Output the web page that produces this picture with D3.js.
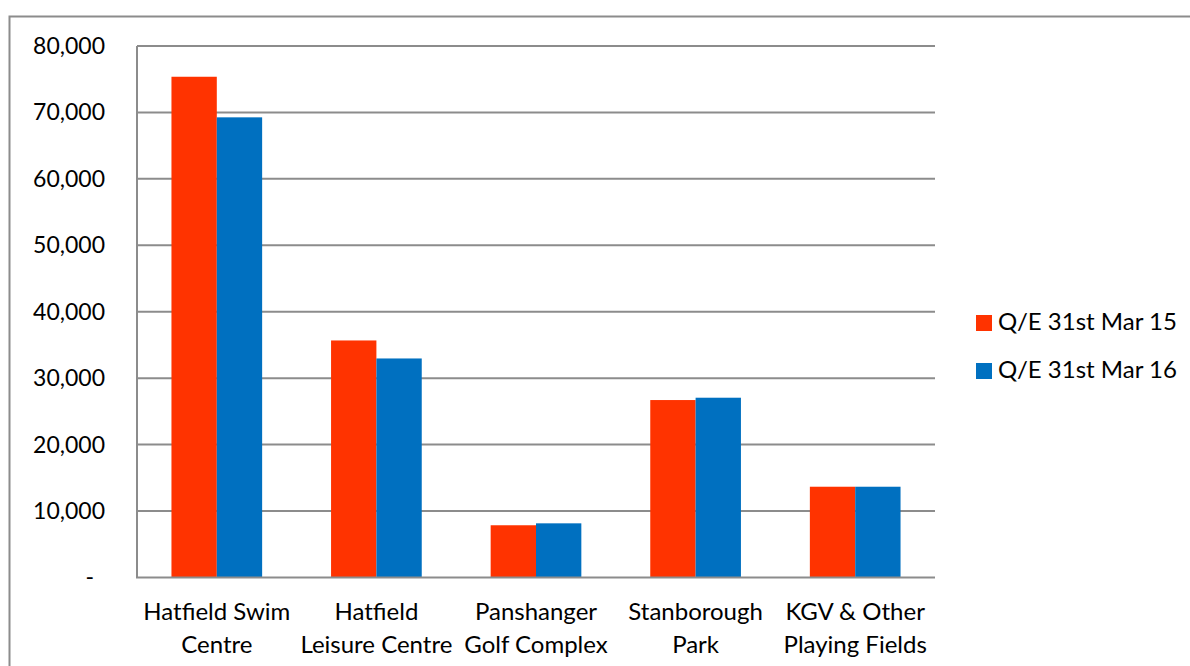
<!DOCTYPE html>
<html>
<head>
<meta charset="utf-8">
<script src="https://cdn.jsdelivr.net/npm/d3@7"></script>
<style>
  body { margin: 0; background: #fff; }
  text { font-family: Lato, "Open Sans", sans-serif; fill: #000; }
</style>
</head>
<body>
<svg id="chart" width="1190" height="666"></svg>
<script>
const categories = [
  ["Hatfield Swim", "Centre"],
  ["Hatfield", "Leisure Centre"],
  ["Panshanger", "Golf Complex"],
  ["Stanborough", "Park"],
  ["KGV & Other", "Playing Fields"],
];
const seriesNames = ["Q/E 31st Mar 15", "Q/E 31st Mar 16"];
const mar15 = [75370, 35670, 7850, 26700, 13650];
const mar16 = [69260, 32960, 8140, 27050, 13650];
const yTicks = [0, 10000, 20000, 30000, 40000, 50000, 60000, 70000, 80000];
const colors = ["#ff3300", "#0070c0"];

const svg = d3.select("#chart");
const margin = { left: 137, right: 935, top: 46, bottom: 577.4 };

// outer border (runs off the bottom/right edge like the original)
svg.append("rect")
  .attr("x", 9.5).attr("y", 16.5)
  .attr("width", 1300).attr("height", 800)
  .attr("fill", "none").attr("stroke", "#8c8c8c").attr("stroke-width", 2);

const x = d3.scaleBand()
  .domain(d3.range(categories.length))
  .range([margin.left, margin.right]);

// two bars per group, ~57% of the category width
const xs = d3.scaleBand()
  .domain([0, 1])
  .range([0, x.bandwidth()])
  .paddingInner(0)
  .paddingOuter(0.76);

const y = d3.scaleLinear().domain([0, 80000]).range([margin.bottom, margin.top]);

// gridlines
svg.append("g")
  .selectAll("line")
  .data(yTicks.filter((d) => d > 0))
  .join("line")
  .attr("x1", margin.left).attr("x2", margin.right)
  .attr("y1", (d) => y(d)).attr("y2", (d) => y(d))
  .attr("stroke", "#8c8c8c").attr("stroke-width", 2);

// bars
const rows = categories.map((c, i) => [mar15[i], mar16[i]]);
const groups = svg.append("g")
  .selectAll("g")
  .data(rows)
  .join("g")
  .attr("transform", (d, i) => `translate(${x(i)},0)`);

groups.selectAll("rect")
  .data((d) => d)
  .join("rect")
  .attr("x", (d, j) => xs(j))
  .attr("width", xs.bandwidth())
  .attr("y", (d) => y(d))
  .attr("height", (d) => y(0) - y(d))
  .attr("fill", (d, j) => colors[j]);

// axis lines
svg.append("line")
  .attr("x1", margin.left).attr("x2", margin.left)
  .attr("y1", margin.top).attr("y2", margin.bottom)
  .attr("stroke", "#8c8c8c").attr("stroke-width", 2);
svg.append("line")
  .attr("x1", margin.left - 1).attr("x2", margin.right)
  .attr("y1", margin.bottom).attr("y2", margin.bottom)
  .attr("stroke", "#8c8c8c").attr("stroke-width", 2);

// y tick labels
const fmt = d3.format(",");
svg.append("g")
  .selectAll("text")
  .data(yTicks)
  .join("text")
  .attr("x", (d) => (d === 0 ? 94 : 105))
  .attr("y", (d) => y(d) + 8)
  .attr("text-anchor", "end")
  .attr("font-size", 23)
  .text((d) => (d === 0 ? "-" : fmt(d)));

// category labels
const catLabels = svg.append("g")
  .selectAll("text")
  .data(categories)
  .join("text")
  .attr("x", (d, i) => x(i) + x.bandwidth() / 2)
  .attr("y", 620)
  .attr("text-anchor", "middle")
  .attr("font-size", 24);
catLabels.selectAll("tspan")
  .data((d) => d)
  .join("tspan")
  .attr("x", function () { return d3.select(this.parentNode).attr("x"); })
  .attr("dy", (d, k) => (k === 0 ? 0 : 33))
  .text((d) => d);

// legend
const legend = svg.append("g")
  .selectAll("g")
  .data(seriesNames)
  .join("g")
  .attr("transform", (d, i) => `translate(976,${315 + i * 48})`);
legend.append("rect")
  .attr("width", 16).attr("height", 16)
  .attr("fill", (d, i) => colors[i]);
legend.append("text")
  .attr("x", 22).attr("y", 15)
  .attr("font-size", 24)
  .text((d) => d);
</script>
</body>
</html>
